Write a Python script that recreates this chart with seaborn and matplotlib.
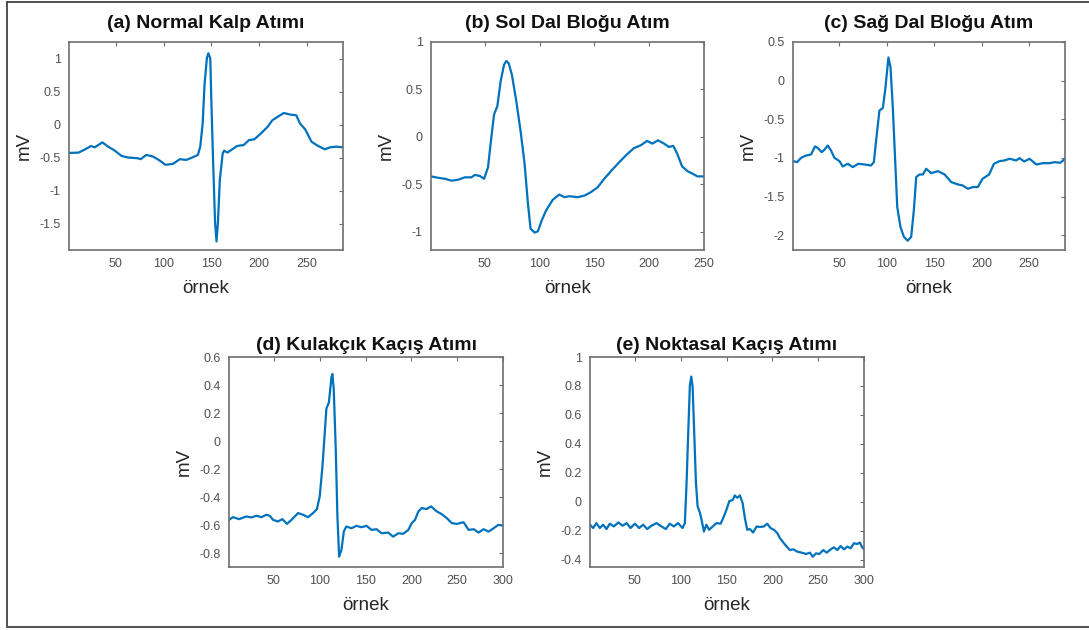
import numpy as np
import matplotlib
matplotlib.use("Agg")
import matplotlib.pyplot as plt
import seaborn as sns
from matplotlib.lines import Line2D

# (a) Normal Kalp Atımı
a_x = [1, 11, 18, 24, 28, 36, 42, 49, 56, 63, 73, 76, 82, 89, 96, 102, 110, 117, 124, 130,
       136, 138.5, 141, 143, 145.5, 147, 149, 150, 152, 154, 155.5, 157, 159, 162, 163.5, 167,
       172, 177, 184, 189.5, 195, 202, 209, 214, 221, 226, 233, 239, 243, 248.5, 255, 262, 269,
       274.5, 281, 288]
a_y = [-0.43, -0.425, -0.375, -0.325, -0.345, -0.27, -0.335, -0.395, -0.475, -0.5, -0.51, -0.525,
       -0.46, -0.485, -0.545, -0.61, -0.595, -0.525, -0.535, -0.5, -0.46, -0.335, 0.015, 0.615,
       1.015, 1.08, 1.0, 0.415, -0.585, -1.485, -1.77, -1.485, -0.835, -0.435, -0.395, -0.425,
       -0.375, -0.325, -0.31, -0.235, -0.225, -0.135, -0.035, 0.065, 0.13, 0.175, 0.15, 0.14,
       0.015, -0.075, -0.26, -0.325, -0.375, -0.345, -0.335, -0.345]

# (b) Sol Dal Bloğu Atım
b_x = [1, 7.6, 13.6, 19.7, 25.8, 31.8, 37.9, 40.9, 45.5, 49.4, 53, 56, 58.5, 61.5, 64.5, 67.6,
       69.7, 71.8, 74.8, 78.8, 82.7, 86.4, 89.4, 91.8, 95.5, 98.5, 102, 106, 112, 118, 122.7,
       127, 134.8, 141, 147, 153, 159, 166.7, 174, 180, 186, 192.4, 198, 203, 208, 213.6, 218,
       222, 225.7, 230, 235, 239, 244, 250]
b_y = [-0.415, -0.43, -0.44, -0.46, -0.45, -0.425, -0.425, -0.40, -0.41, -0.44, -0.32, -0.007,
       0.237, 0.324, 0.585, 0.76, 0.80, 0.777, 0.655, 0.376, 0.063, -0.286, -0.70, -0.965,
       -1.007, -0.993, -0.878, -0.773, -0.662, -0.606, -0.634, -0.624, -0.634, -0.617, -0.58,
       -0.53, -0.44, -0.34, -0.25, -0.18, -0.118, -0.087, -0.042, -0.07, -0.035, -0.07, -0.105,
       -0.094, -0.18, -0.31, -0.36, -0.383, -0.415, -0.415]

# (c) Sağ Dal Bloğu Atım
c_x = [1, 5.3, 9.5, 14.8, 20, 24.3, 27, 31.3, 34, 37.7, 41, 44.7, 50, 53.5, 58.8, 64, 70, 76.4,
       83.4, 86.3, 88.7, 92.2, 95.8, 98.2, 101.7, 103.9, 106.3, 108.8, 111, 114.4, 118, 122,
       125.7, 128.5, 131, 134.5, 138, 141.5, 146.8, 153.8, 160.9, 168, 175, 180, 185.5, 190.8,
       196, 201, 208, 213, 219, 224, 229.5, 236.5, 240, 245, 250.6, 257.7, 264.7, 271.8, 277,
       283, 288]
c_y = [-1.04, -1.054, -0.998, -0.968, -0.955, -0.85, -0.869, -0.925, -0.895, -0.839, -0.90,
       -0.998, -1.04, -1.11, -1.075, -1.118, -1.075, -1.084, -1.097, -1.054, -0.774, -0.387,
       -0.353, -0.129, 0.30, 0.172, -0.344, -1.032, -1.634, -1.892, -2.02, -2.07, -2.02, -1.677,
       -1.247, -1.213, -1.213, -1.14, -1.196, -1.17, -1.213, -1.312, -1.342, -1.355, -1.398,
       -1.376, -1.376, -1.269, -1.213, -1.075, -1.04, -1.032, -1.01, -1.032, -1.002, -1.045,
       -1.01, -1.084, -1.067, -1.067, -1.054, -1.062, -1.01]

# (d) Kulakçık Kaçış Atımı
d_x = [1, 5.4, 12, 20, 25.4, 30.9, 36.4, 41.8, 45.5, 49, 54.4, 59.2, 64.3, 70, 76.3, 81.8, 87.3,
       92.7, 97, 100, 103, 105.5, 107.3, 110, 112.8, 113.8, 115.3, 117.5, 119.3, 121.2, 123.7,
       126.3, 129, 134.7, 140, 145.6, 151, 156.6, 162, 167.5, 174.8, 180, 185.8, 191, 196.7,
       200.4, 204, 207.7, 211.3, 216.8, 221.5, 227.7, 233, 238.7, 244.2, 249.6, 257, 262.4, 268,
       273.4, 278.8, 284.3, 289.8, 295, 300]
d_y = [-0.563, -0.544, -0.558, -0.539, -0.546, -0.534, -0.544, -0.527, -0.534, -0.563, -0.575,
       -0.558, -0.592, -0.558, -0.515, -0.527, -0.544, -0.515, -0.486, -0.395, -0.18, 0.06,
       0.232, 0.275, 0.455, 0.479, 0.371, -0.06, -0.539, -0.826, -0.778, -0.647, -0.611, -0.623,
       -0.606, -0.616, -0.606, -0.635, -0.63, -0.659, -0.654, -0.683, -0.659, -0.663, -0.635,
       -0.587, -0.563, -0.503, -0.479, -0.486, -0.467, -0.503, -0.522, -0.551, -0.587, -0.592,
       -0.58, -0.635, -0.63, -0.654, -0.63, -0.647, -0.623, -0.599, -0.604]

# (e) Noktasal Kaçış Atımı
e_x = [1, 4.4, 8, 11.7, 15.3, 19, 22.6, 27, 31.9, 36.5, 41, 45.2, 50, 54.6, 59, 63.4, 68, 73.6,
       79, 83.8, 88, 92.5, 97, 102, 104.5, 106.4, 108.2, 110, 111.5, 113, 114.7, 116.6, 118.4,
       121, 122.7, 125.3, 128, 131, 135, 139, 143.5, 146.4, 150, 153, 156.6, 159, 161.7, 164.6,
       167.5, 170, 172.6, 175.5, 179, 182.8, 186.4, 190.8, 194.4, 198, 201.7, 205.4, 208.3, 212,
       215.6, 219.2, 222.8, 227.2, 232, 236.7, 241, 244, 247.6, 251.2, 255.6, 259.2, 263.6,
       267.2, 270.9, 274.5, 278.2, 281.8, 285.4, 289, 292.7, 295.6, 297.5, 300]
e_y = [-0.158, -0.181, -0.147, -0.181, -0.158, -0.188, -0.151, -0.17, -0.142, -0.165, -0.147,
       -0.181, -0.151, -0.181, -0.158, -0.188, -0.165, -0.147, -0.17, -0.188, -0.151, -0.17,
       -0.147, -0.181, -0.147, 0.133, 0.481, 0.807, 0.865, 0.795, 0.481, 0.133, -0.03, -0.077,
       -0.123, -0.205, -0.158, -0.193, -0.17, -0.147, -0.151, -0.112, -0.053, 0.005, 0.012,
       0.044, 0.028, 0.044, -0.007, -0.112, -0.193, -0.188, -0.212, -0.17, -0.174, -0.17,
       -0.151, -0.181, -0.193, -0.216, -0.251, -0.281, -0.309, -0.333, -0.328, -0.344, -0.351,
       -0.36, -0.351, -0.379, -0.356, -0.36, -0.333, -0.351, -0.328, -0.314, -0.333, -0.305,
       -0.328, -0.309, -0.321, -0.286, -0.291, -0.281, -0.309, -0.328]

titles = ["(a) Normal Kalp Atımı", "(b) Sol Dal Bloğu Atım", "(c) Sağ Dal Bloğu Atım",
          "(d) Kulakçık Kaçış Atımı", "(e) Noktasal Kaçış Atımı"]
xlims = [(1, 288), (1, 250), (1, 288), (1, 300), (1, 300)]
ylims = [(-1.9, 1.25), (-1.19, 1.0), (-2.19, 0.5), (-0.9, 0.6), (-0.45, 1.0)]
yticks = [[-1.5, -1, -0.5, 0, 0.5, 1], [-1, -0.5, 0, 0.5, 1], [-2, -1.5, -1, -0.5, 0, 0.5],
          [-0.8, -0.6, -0.4, -0.2, 0, 0.2, 0.4, 0.6],
          [-0.4, -0.2, 0, 0.2, 0.4, 0.6, 0.8, 1]]
xticks = [[50, 100, 150, 200, 250], [50, 100, 150, 200, 250], [50, 100, 150, 200, 250],
          [50, 100, 150, 200, 250, 300], [50, 100, 150, 200, 250, 300]]

sns.set_style("white")
plt.rcParams['font.family'] = ['Liberation Sans', 'DejaVu Sans']

W, H = 1089, 630
fig = plt.figure(figsize=(W / 100, H / 100), dpi=100)

# pixel boxes: left, right, top, bottom
boxes = [(69, 343, 42, 250), (431, 704, 42, 250), (793, 1065, 42, 250),
         (229, 503, 357, 567), (590, 864, 357, 567)]
title_pads = [10, 10, 10, 5, 5]

series = [(a_x, a_y), (b_x, b_y), (c_x, c_y), (d_x, d_y), (e_x, e_y)]
line_col = "#0072BD"
ax_col = "#6e6e6e"
tick_txt = "#505050"

for i, (l, r, t, b) in enumerate(boxes):
    ax = fig.add_axes([l / W, 1 - b / H, (r - l) / W, (b - t) / H])
    xs, ys = series[i]
    sns.lineplot(x=xs, y=ys, ax=ax, color=line_col, linewidth=1.6, sort=False)
    ax.set_xlim(*xlims[i])
    ax.set_ylim(*ylims[i])
    ax.set_xticks(xticks[i])
    ax.set_yticks(yticks[i])
    ax.set_yticklabels([f"{v:g}" for v in yticks[i]])
    ax.tick_params(direction="in", length=3, width=0.8, color=ax_col, labelcolor=tick_txt,
                   labelsize=9, top=True, right=True, pad=6)
    for sp in ax.spines.values():
        sp.set_visible(True)
        sp.set_color(ax_col)
        sp.set_linewidth(1.2)
    ax.set_title(titles[i], fontsize=14, fontweight="bold", color="#111111", pad=title_pads[i])
    ax.set_xlabel("örnek", fontsize=13.5, color="#262626", labelpad=7)
    ax.set_ylabel("mV", fontsize=13.5, color="#262626", labelpad=5)

# thin frame around the figure
fig.add_artist(Line2D([7 / W, 7 / W], [1 - 2 / H, 1 - 627 / H], color="#333333", lw=1.2))
fig.add_artist(Line2D([7 / W, 1], [1 - 2 / H, 1 - 2 / H], color="#333333", lw=1.2))
fig.add_artist(Line2D([7 / W, 1], [1 - 627 / H, 1 - 627 / H], color="#555555", lw=1.5))

fig.savefig("out.png", dpi=100)
